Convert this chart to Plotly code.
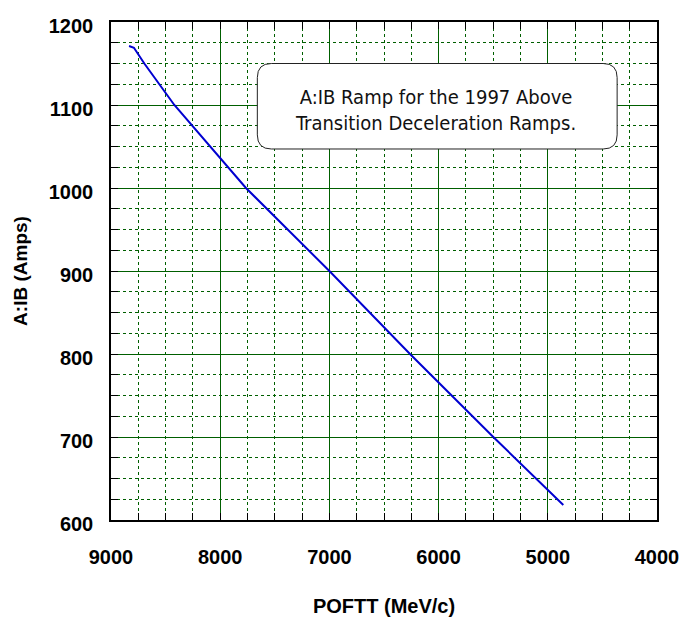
import plotly.graph_objects as go

# Data
poftt = [8835, 8790, 8695, 8420, 7764, 7000, 6262, 5499, 4858]
aib = [1171, 1169, 1150, 1100, 1000, 900, 800, 700, 618]

x_ticks = [9000, 8000, 7000, 6000, 5000, 4000]
y_ticks = [600, 700, 800, 900, 1000, 1100, 1200]

note_lines = ["A:IB Ramp for the 1997 Above", "Transition Deceleration Ramps."]

GREEN = "#005f00"
tick_font = dict(family="Liberation Sans", size=20, color="black", weight="bold")

fig = go.Figure()
fig.add_trace(go.Scatter(x=poftt, y=aib, mode="lines",
                         line=dict(color="#0000d0", width=2), showlegend=False))

# rounded box for the note (data coords)
L, R, T, B = 7660, 4365, 1150, 1047
dx, dy = 128, 17
path = (f"M {L-dx},{T} L {R+dx},{T} Q {R},{T} {R},{T-dy} L {R},{B+dy} "
        f"Q {R},{B} {R+dx},{B} L {L-dx},{B} Q {L},{B} {L},{B+dy} "
        f"L {L},{T-dy} Q {L},{T} {L-dx},{T} Z")
fig.add_shape(type="path", path=path, xref="x", yref="y",
              line=dict(color="#222222", width=1), fillcolor="white", layer="above")
fig.add_annotation(x=6030, y=1094, xref="x", yref="y", text="<br>".join(note_lines),
                   showarrow=False, align="center",
                   font=dict(family="DejaVu Sans Condensed", size=20, color="#111111"))

axis_common = dict(
    showline=True, linecolor="black", linewidth=1.5, mirror="ticks",
    ticks="inside", ticklen=7, tickcolor="black", tickwidth=1,
    showgrid=True, gridcolor=GREEN, gridwidth=1,
    zeroline=False, tickfont=tick_font, ticklabeloverflow="allow",
)

fig.update_xaxes(
    **axis_common,
    range=[9000, 4000], tickvals=x_ticks, ticktext=[str(v) for v in x_ticks],
    minor=dict(dtick=250, tick0=4000, ticks="inside", ticklen=7, tickcolor="black",
               showgrid=True, gridcolor=GREEN, griddash="3px,3px", gridwidth=1),
    ticklabelstandoff=18,
    title=dict(text="POFTT (MeV/c)", standoff=38,
               font=dict(family="Liberation Sans", size=20, color="black", weight="bold")),
)
fig.update_yaxes(
    **axis_common,
    range=[600, 1200], tickvals=y_ticks, ticktext=[str(v) for v in y_ticks],
    minor=dict(dtick=25, tick0=600, ticks="inside", ticklen=7, tickcolor="black",
               showgrid=True, gridcolor=GREEN, griddash="3px,3px", gridwidth=1),
    ticklabelstandoff=12, ticklabelshift=4,
    title=dict(text="A:IB (Amps)", standoff=16,
               font=dict(family="Liberation Sans", size=19, color="black", weight="bold")),
)

fig.update_layout(
    width=679, height=617,
    margin=dict(l=111, r=22, t=22, b=97, autoexpand=False),
    plot_bgcolor="white", paper_bgcolor="white",
)

fig.write_html("out.html")
